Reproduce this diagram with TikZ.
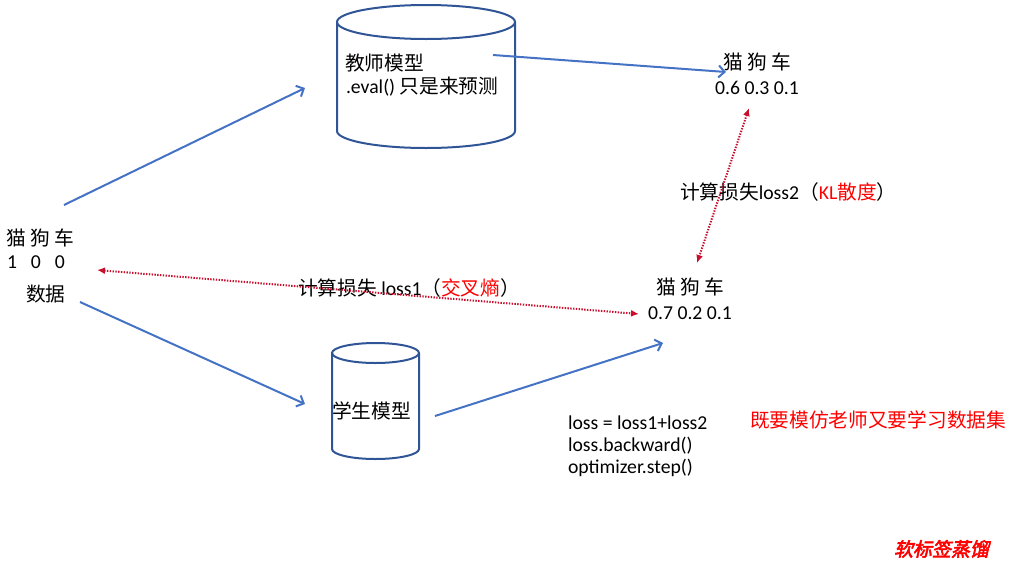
\documentclass[tikz,border=0pt]{standalone}
\usepackage{fontspec}
\setmainfont{Carlito}
\newfontfamily\cjk{Noto Sans CJK SC}
\newfontfamily\wmfont[FakeSlant=0.22,FakeBold=3]{Noto Sans CJK SC}
\usetikzlibrary{arrows.meta}
\definecolor{arrowblue}{HTML}{4472C4}
\definecolor{cylblue}{HTML}{2F5597}
\definecolor{dotred}{HTML}{C8102E}
\definecolor{txtred}{HTML}{FF0000}
\newcommand\zh[1]{{\cjk #1}}
\begin{document}
\begin{tikzpicture}[x=1pt,y=-1pt,
  font=\fontsize{19.7}{23}\selectfont,
  every node/.style={inner sep=0pt,outer sep=0pt},
  lbl/.style={anchor=west},
  flow/.style={draw=arrowblue,line width=2pt,-{Straight Barb[length=6pt,width=12pt]}},
  lossline/.style={draw=dotred,line width=2pt,dash pattern=on 1.4pt off 1.4pt,
    {Latex[length=8pt,width=7pt]}-{Latex[length=8pt,width=7pt]}},
  cyl/.style={draw=cylblue,line width=2pt}]
\useasboundingbox (0,0) rectangle (1013,571);

% teacher cylinder
\draw[cyl] (426,22) ellipse [x radius=89pt,y radius=17pt];
\draw[cyl] (337,22) -- (337,131) arc[start angle=180,end angle=360,x radius=89pt,y radius=17pt] -- (515,22);
% student cylinder
\draw[cyl] (375.5,353) ellipse [x radius=43.5pt,y radius=10pt];
\draw[cyl] (332,353) -- (332,449) arc[start angle=180,end angle=360,x radius=43.5pt,y radius=10pt] -- (419,353);

% texts
\node[lbl] (teacher) at (345,63) {\zh{教师模型}};
\node[lbl] (teval) at (346,87) {.eval() \zh{只是来预测}};
\node (student) at (371.5,411) {\zh{学生模型}};

\node[lbl] (dcls) at (6,238) {\zh{猫} \zh{狗} \zh{车}};
\node[lbl] (dval) at (7,262) {1\hspace{14pt}0\hspace{14pt}0};
\node[lbl] (data) at (26,294) {\zh{数据}};

\node (tcls) at (757,62) {\zh{猫} \zh{狗} \zh{车}};
\node (tval) at (757,88) {0.6 0.3 0.1};
\node (scls) at (690,287) {\zh{猫} \zh{狗} \zh{车}};
\node (sval) at (690,313) {0.7 0.2 0.1};

\node[lbl] (loss2) at (680,192) {\zh{计算损失}loss2\zh{（}{\color{txtred}KL\zh{散度}}\zh{）}};
\node[lbl] (loss1) at (298,288) {\zh{计算损失} loss1\zh{（}{\color{txtred}\zh{交叉熵}}\zh{）}};

\node[lbl] (code1) at (568,423) {loss = loss1+loss2};
\node[lbl] (code2) at (568,446) {loss.backward()};
\node[lbl] (code3) at (568,468) {optimizer.step()};

\node[lbl,text=txtred] (note) at (750,420) {\zh{既要模仿老师又要学习数据集}};
\node[lbl,text=txtred] (wm) at (894,549) {\fontsize{19}{22}\wmfont 软标签蒸馏};

% connector endpoints
\coordinate (a1s) at (64,205);  \coordinate (a1e) at (305,88);
\coordinate (a2s) at (80,302);  \coordinate (a2e) at (305,404);
\coordinate (a3s) at (493,55);  \coordinate (a3e) at (726,72);
\coordinate (a4s) at (435,416); \coordinate (a4e) at (663,343);
\coordinate (r1a) at (749,108); \coordinate (r1b) at (697,263);
\coordinate (r2a) at (97,270);  \coordinate (r2b) at (639,314);

\draw[flow] (a1s) -- (a1e);
\draw[flow] (a2s) -- (a2e);
\draw[flow] (a3s) -- (a3e);
\draw[flow] (a4s) -- (a4e);
\draw[lossline] (r1a) -- (r1b);
\draw[lossline] (r2a) -- (r2b);
\end{tikzpicture}
\end{document}
